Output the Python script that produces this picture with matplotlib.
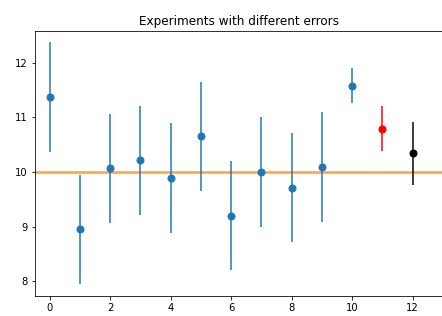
import matplotlib
matplotlib.use("Agg")
import matplotlib.pyplot as plt

# valeurs
x_blue = [0, 1, 2, 3, 4, 5, 6, 7, 8, 9, 10]
y_blue = [11.37, 8.95, 10.07, 10.21, 9.89, 10.65, 9.2, 10.0, 9.71, 10.09, 11.58]
err_blue = [1.0, 1.0, 1.0, 1.0, 1.0, 1.0, 1.0, 1.0, 1.0, 1.0, 0.32]

x_red, y_red, err_red = [11], [10.79], [0.41]
x_black, y_black, err_black = [12], [10.34], [0.58]

expected = 10

fig = plt.figure(figsize=(442 / 72, 316 / 72), dpi=72)
ax = fig.add_axes([35 / 442, 20 / 316, 1 - 35 / 442 + 0.002, 265 / 316])

ax.axhline(expected, color="#ff7f0e", lw=2.5, alpha=0.75, zorder=1)

for xs, ys, es, c in [(x_blue, y_blue, err_blue, "#1f77b4"),
                      (x_red, y_red, err_red, "red"),
                      (x_black, y_black, err_black, "black")]:
    ax.errorbar(xs, ys, yerr=es, fmt="none", ecolor=c, elinewidth=2, alpha=0.75, zorder=2)
    ax.plot(xs, ys, "o", color=c, ms=7, zorder=3)

ax.set_xlim(-0.48, 13.0)
ax.set_ylim(7.73, 12.58)
ax.set_xticks([0, 2, 4, 6, 8, 10, 12])
ax.set_yticks([8, 9, 10, 11, 12])
ax.set_title("Experiments with different errors")

fig.savefig("out.png", dpi=72)
